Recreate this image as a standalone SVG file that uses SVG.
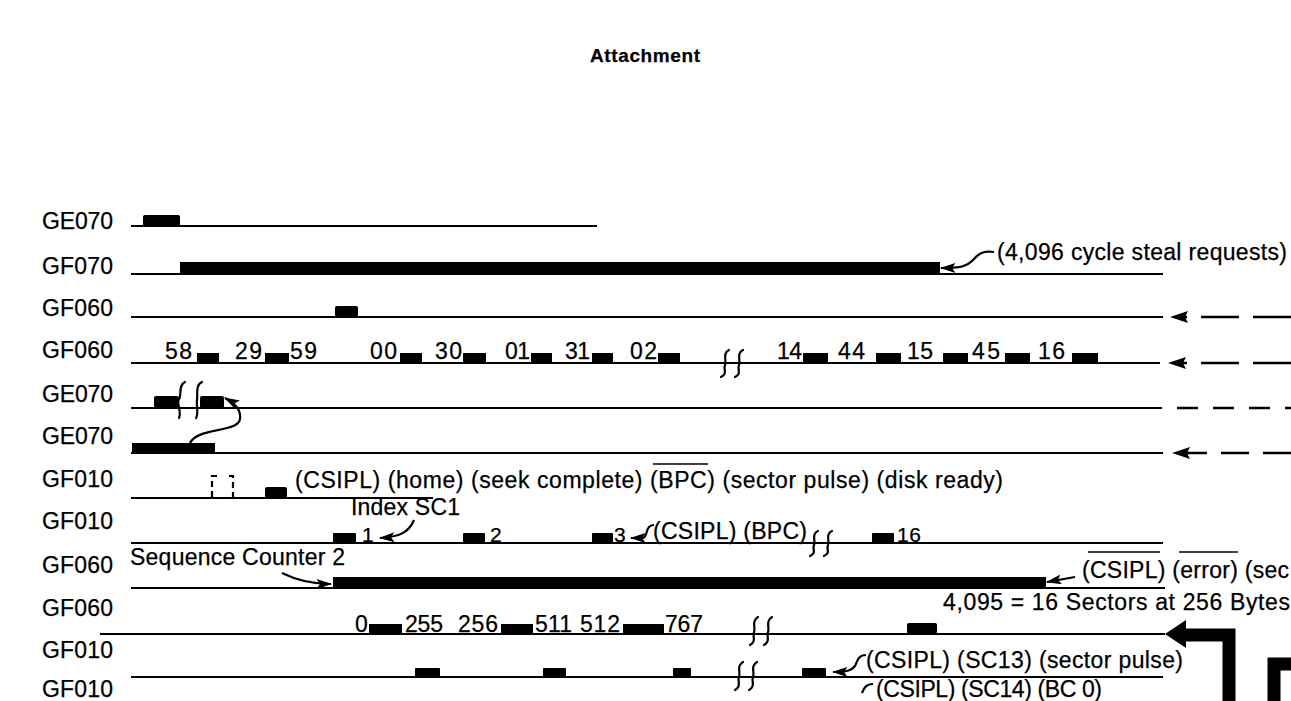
<svg xmlns="http://www.w3.org/2000/svg" width="1291" height="701" viewBox="0 0 1291 701">
<style>
text{font-family:"Liberation Sans",Arial,sans-serif;font-size:23px;fill:#000;stroke:#000;stroke-width:0.25}
.title{font-weight:bold;font-size:19px}
.sm{font-size:21px}
.sig{stroke:#000;stroke-width:2.2;fill:none}
.p{fill:#000}
.brk{stroke:#000;stroke-width:2.2;fill:none;stroke-linecap:round}
.cur{stroke:#000;stroke-width:2.2;fill:none}
.dsh{stroke:#000;stroke-width:2.5;fill:none}
.ov{stroke:#000;stroke-width:1.6}
.big{stroke:#000;stroke-width:13;fill:none}
</style>
<defs>
<marker id="ah" viewBox="0 0 14 9" refX="13" refY="4.5" markerWidth="16" markerHeight="10" markerUnits="userSpaceOnUse" orient="auto">
<path d="M0,0 L14,4.5 L0,9 L3,4.5 z" fill="#000"/>
</marker>
<polygon id="lh" points="0,0 18,-6 15,0 18,6" fill="#000"/>
</defs>

<text class="title" x="590" y="62" textLength="110">Attachment</text>

<g id="labels">
<text x="42" y="229" textLength="71">GE070</text>
<text x="42" y="274" textLength="71">GF070</text>
<text x="42" y="316" textLength="71">GF060</text>
<text x="42" y="358" textLength="71">GF060</text>
<text x="42" y="402" textLength="71">GE070</text>
<text x="42" y="444" textLength="71">GE070</text>
<text x="42" y="487" textLength="71">GF010</text>
<text x="42" y="529" textLength="71">GF010</text>
<text x="42" y="573" textLength="71">GF060</text>
<text x="42" y="616" textLength="71">GF060</text>
<text x="42" y="658" textLength="71">GF010</text>
<text x="42" y="697" textLength="71">GF010</text>
</g>

<g id="row1">
<path class="sig" d="M131 226 H597"/>
<rect class="p" x="143" y="215" width="37" height="12" rx="2"/>
</g>

<g id="row2">
<path class="sig" d="M131 274 H1163"/>
<rect class="p" x="180" y="262" width="760" height="13"/>
<text x="997" y="260" textLength="290">(4,096 cycle steal requests)</text>
</g>

<g id="row3">
<path class="sig" d="M131 317 H1163"/>
<rect class="p" x="335" y="306" width="23" height="11" rx="2"/>
</g>

<g id="row4">
<path class="sig" d="M131 363 H1160"/>
<rect class="p" x="197" y="353" width="22" height="10"/>
<rect class="p" x="265" y="353" width="24" height="10"/>
<rect class="p" x="400" y="353" width="22" height="10"/>
<rect class="p" x="463" y="353" width="23" height="10"/>
<rect class="p" x="531" y="353" width="21" height="10"/>
<rect class="p" x="592" y="353" width="21" height="10"/>
<rect class="p" x="658" y="353" width="22" height="10"/>
<rect class="p" x="803" y="353" width="25" height="10"/>
<rect class="p" x="876" y="353" width="25" height="10"/>
<rect class="p" x="943" y="353" width="25" height="10"/>
<rect class="p" x="1005" y="353" width="25" height="10"/>
<rect class="p" x="1072" y="353" width="26" height="10"/>
<text x="165" y="359" textLength="27">58</text>
<text x="235" y="359" textLength="27">29</text>
<text x="290" y="359" textLength="27">59</text>
<text x="370" y="359" textLength="27">00</text>
<text x="435" y="359" textLength="27">30</text>
<text x="505" y="359" textLength="25">01</text>
<text x="565" y="359" textLength="25">31</text>
<text x="630" y="359" textLength="27">02</text>
<text x="777" y="359" textLength="25">14</text>
<text x="838" y="359" textLength="27">44</text>
<text x="907" y="359" textLength="26">15</text>
<text x="972" y="359" textLength="28">45</text>
<text x="1038" y="359" textLength="27">16</text>
<path class="brk" d="M729 350 C722 353 727 362 725 365 C723 369 728 374 721 377"/>
<path class="brk" d="M743 350 C736 353 741 362 739 365 C737 369 742 374 735 377"/>
</g>

<g id="row5">
<path class="sig" d="M131 408 H1162"/>
<rect class="p" x="154" y="396" width="25" height="12" rx="2"/>
<rect class="p" x="200" y="396" width="24" height="12" rx="2"/>
<path class="brk" d="M185 382 C178 385 182 395 179 399 C176 403 182 411 179 418"/>
<path class="brk" d="M202 382 C195 385 198 395 197 400 C196 406 199 413 196 418"/>
</g>

<g id="row6">
<path class="sig" d="M131 453 H1163"/>
<rect class="p" x="132" y="443" width="83" height="11"/>
</g>

<g id="row7">
<path class="sig" d="M131 498 H433"/>
<path class="sig" d="M217 476 H212 V498 M229 476 H233 V498" stroke-dasharray="6 4"/>
<rect class="p" x="265" y="487" width="22" height="11" rx="2"/>
<text x="295" y="488" textLength="708">(CSIPL) (home) (seek complete) (BPC) (sector pulse) (disk ready)</text>
<line class="ov" x1="653" y1="464" x2="708" y2="464"/>
</g>

<g id="row8">
<path class="sig" d="M131 543 H1163"/>
<rect class="p" x="333" y="533" width="23" height="10" rx="1"/>
<rect class="p" x="463" y="533" width="22" height="10" rx="1"/>
<rect class="p" x="592" y="533" width="21" height="10" rx="1"/>
<rect class="p" x="872" y="533" width="22" height="10" rx="1"/>
<text x="351" y="515" textLength="109">Index SC1</text>
<text class="sm" x="362" y="542">1</text>
<text class="sm" x="490" y="542">2</text>
<text class="sm" x="614" y="542">3</text>
<text x="653" y="539" textLength="154">(CSIPL) (BPC)</text>
<text class="sm" x="897" y="542" textLength="24">16</text>
<path class="brk" d="M818 531 C811 534 816 542 814 545 C812 549 817 553 810 556"/>
<path class="brk" d="M832 531 C825 534 830 542 828 545 C826 549 831 553 824 556"/>
</g>

<g id="row9">
<path class="sig" d="M131 588 H1165"/>
<rect class="p" x="333" y="577" width="713" height="12"/>
<text x="130" y="565" textLength="215">Sequence Counter 2</text>
<text x="1082" y="578" textLength="207">(CSIPL) (error) (sec</text>
<line class="ov" x1="1088" y1="552" x2="1160" y2="552"/>
<line class="ov" x1="1179" y1="552" x2="1238" y2="552"/>
</g>

<g id="row10">
<path class="sig" d="M100 634 H1165"/>
<rect class="p" x="369" y="624" width="33" height="10"/>
<rect class="p" x="501" y="624" width="32" height="10"/>
<rect class="p" x="623" y="624" width="41" height="10"/>
<rect class="p" x="907" y="623" width="30" height="11" rx="2"/>
<text x="355" y="632">0</text>
<text x="405" y="632" textLength="38">255</text>
<text x="458" y="632" textLength="40">256</text>
<text x="535" y="632" textLength="37">511</text>
<text x="580" y="632" textLength="40">512</text>
<text x="665" y="632" textLength="38">767</text>
<text x="943" y="610" textLength="347">4,095 = 16 Sectors at 256 Bytes</text>
<path class="brk" d="M758 617 C751 621 756 629 754 632 C752 636 757 641 750 645"/>
<path class="brk" d="M772 617 C765 621 770 629 768 632 C766 636 771 641 764 645"/>
</g>

<g id="row11">
<path class="sig" d="M131 677 H1163"/>
<rect class="p" x="415" y="668" width="25" height="9" rx="1"/>
<rect class="p" x="543" y="668" width="23" height="9" rx="1"/>
<rect class="p" x="673" y="668" width="18" height="9" rx="1"/>
<rect class="p" x="802" y="668" width="24" height="9" rx="1"/>
<text x="866" y="668" textLength="317">(CSIPL) (SC13) (sector pulse)</text>
<path class="brk" d="M743 662 C736 666 741 673 739 677 C737 681 742 686 735 690"/>
<path class="brk" d="M757 662 C750 666 755 673 753 677 C751 681 756 686 749 690"/>
</g>

<g id="row12">
<text x="876" y="697" font-size="21" textLength="226">(CSIPL) (SC14) (BC 0)</text>
<path class="cur" d="M873 684 C866 684 864 688 862 693"/>
</g>

<g id="connectors">
<path class="cur" marker-end="url(#ah)" d="M994 252 C980 250 977 256 972 261 C967 266 962 268 941 268"/>
<path class="cur" marker-end="url(#ah)" d="M190 443 C198 427 238 433 240 419 C241 410 236 404 225 398"/>
<path class="cur" marker-end="url(#ah)" d="M414 520 C409 532 400 537 380 538"/>
<path class="cur" marker-end="url(#ah)" d="M654 525 C645 525 648 537 643 538 L631 538"/>
<path class="cur" marker-end="url(#ah)" d="M282 573 C296 580 310 584 331 584"/>
<path class="cur" marker-end="url(#ah)" d="M1075 577 L1047 582"/>
<path class="cur" marker-end="url(#ah)" d="M866 655 C858 655 857 662 855 666 C852 670 848 672 833 672"/>

<path class="dsh" d="M1291 317 H1176" stroke-dasharray="38 14"/>
<use href="#lh" x="1170" y="317"/>
<path class="dsh" d="M1291 363 H1174" stroke-dasharray="38 14"/>
<use href="#lh" x="1168" y="363"/>
<path class="dsh" d="M1177 408 H1291" stroke-dasharray="21 15"/>
<path class="dsh" d="M1291 453 H1178" stroke-dasharray="28 14"/>
<use href="#lh" x="1172" y="453"/>

<path class="big" d="M1180 635 H1229 V701"/>
<polygon points="1165,634 1186,620 1186,648" fill="#000"/>
<path class="big" d="M1291 664 H1274 V701"/>
</g>
</svg>
